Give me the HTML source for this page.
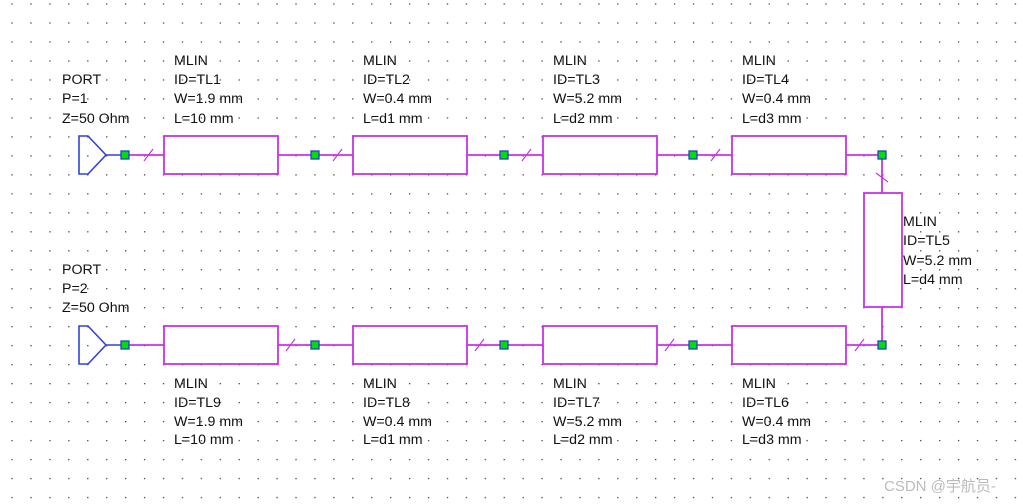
<!DOCTYPE html>
<html><head><meta charset="utf-8"><style>
html,body{margin:0;padding:0;background:#fff;width:1023px;height:504px;overflow:hidden}
svg{display:block}
text{font-family:"Liberation Sans",Arial,sans-serif;font-size:14.2px;fill:#111}
</style></head><body>
<svg width="1023" height="504" viewBox="0 0 1023 504" xmlns="http://www.w3.org/2000/svg">
<defs>
<pattern id="g" x="11.42" y="3.4" width="18.93" height="18.98" patternUnits="userSpaceOnUse">
<rect x="0" y="0" width="1.3" height="1.3" fill="#444"/>
</pattern>
</defs>
<rect width="1023" height="504" fill="#fff"/>
<rect width="1023" height="504" fill="url(#g)"/>

<g stroke="#c832e6" stroke-width="1.8" fill="#fff">
<line x1="125" y1="155" x2="164" y2="155"/>
<rect x="164" y="136" width="114" height="38"/>
<line x1="278" y1="155" x2="353" y2="155"/>
<rect x="353" y="136" width="114" height="38"/>
<line x1="467" y1="155" x2="543" y2="155"/>
<rect x="543" y="136" width="114" height="38"/>
<line x1="657" y1="155" x2="732" y2="155"/>
<rect x="732" y="136" width="114" height="38"/>
<line x1="846" y1="155" x2="882" y2="155"/>
<line x1="882" y1="155" x2="882" y2="193"/>
<rect x="864" y="193" width="38" height="114"/>
<line x1="882" y1="307" x2="882" y2="345"/>
<line x1="125" y1="345" x2="164" y2="345"/>
<rect x="164" y="326" width="114" height="38"/>
<line x1="278" y1="345" x2="353" y2="345"/>
<rect x="353" y="326" width="114" height="38"/>
<line x1="467" y1="345" x2="543" y2="345"/>
<rect x="543" y="326" width="114" height="38"/>
<line x1="657" y1="345" x2="732" y2="345"/>
<rect x="732" y="326" width="114" height="38"/>
<line x1="846" y1="345" x2="882" y2="345"/>
<g stroke-width="1.2">
<line x1="144" y1="161" x2="153" y2="149"/>
<line x1="333" y1="161" x2="342" y2="149"/>
<line x1="522" y1="161" x2="531" y2="149"/>
<line x1="711" y1="161" x2="720" y2="149"/>
<line x1="876" y1="173" x2="888" y2="182"/>
<line x1="286" y1="351" x2="295" y2="339"/>
<line x1="475" y1="351" x2="484" y2="339"/>
<line x1="665" y1="351" x2="674" y2="339"/>
<line x1="855" y1="351" x2="864" y2="339"/>
</g>
</g>
<g stroke="#3040e0" stroke-width="1.6" fill="none">
<polyline points="106,155 88,136 79,136 79,174 88,174 106,155 121,155"/>
<polyline points="106,345 88,326 79,326 79,364 88,364 106,345 121,345"/>
</g>
<g fill="#00e000" stroke="#2040d0" stroke-width="1.3">
<rect x="121" y="151" width="8" height="8"/><rect x="311" y="151" width="8" height="8"/>
<rect x="500" y="151" width="8" height="8"/><rect x="689" y="151" width="8" height="8"/>
<rect x="878" y="151" width="8" height="8"/>
<rect x="121" y="341" width="8" height="8"/><rect x="311" y="341" width="8" height="8"/>
<rect x="500" y="341" width="8" height="8"/><rect x="689" y="341" width="8" height="8"/>
<rect x="878" y="341" width="8" height="8"/>
</g>
<g>
<text x="62" y="84">PORT</text><text x="62" y="103">P=1</text><text x="62" y="123">Z=50 Ohm</text>
<text x="62" y="274">PORT</text><text x="62" y="293">P=2</text><text x="62" y="312">Z=50 Ohm</text>

<text x="174" y="65">MLIN</text><text x="174" y="84">ID=TL1</text><text x="174" y="103">W=1.9 mm</text><text x="174" y="123">L=10 mm</text>
<text x="363" y="65">MLIN</text><text x="363" y="84">ID=TL2</text><text x="363" y="103">W=0.4 mm</text><text x="363" y="123">L=d1 mm</text>
<text x="553" y="65">MLIN</text><text x="553" y="84">ID=TL3</text><text x="553" y="103">W=5.2 mm</text><text x="553" y="123">L=d2 mm</text>
<text x="742" y="65">MLIN</text><text x="742" y="84">ID=TL4</text><text x="742" y="103">W=0.4 mm</text><text x="742" y="123">L=d3 mm</text>

<text x="903" y="226">MLIN</text><text x="903" y="245">ID=TL5</text><text x="903" y="265">W=5.2 mm</text><text x="903" y="284">L=d4 mm</text>

<text x="174" y="388">MLIN</text><text x="174" y="407">ID=TL9</text><text x="174" y="426">W=1.9 mm</text><text x="174" y="444">L=10 mm</text>
<text x="363" y="388">MLIN</text><text x="363" y="407">ID=TL8</text><text x="363" y="426">W=0.4 mm</text><text x="363" y="444">L=d1 mm</text>
<text x="553" y="388">MLIN</text><text x="553" y="407">ID=TL7</text><text x="553" y="426">W=5.2 mm</text><text x="553" y="444">L=d2 mm</text>
<text x="742" y="388">MLIN</text><text x="742" y="407">ID=TL6</text><text x="742" y="426">W=0.4 mm</text><text x="742" y="444">L=d3 mm</text>
</g>
<text x="884" y="491" style="font-family:'Liberation Sans','Noto Sans CJK SC',sans-serif;font-size:15px;fill:#bbb">CSDN @宇航员-</text>
</svg>
</body></html>
